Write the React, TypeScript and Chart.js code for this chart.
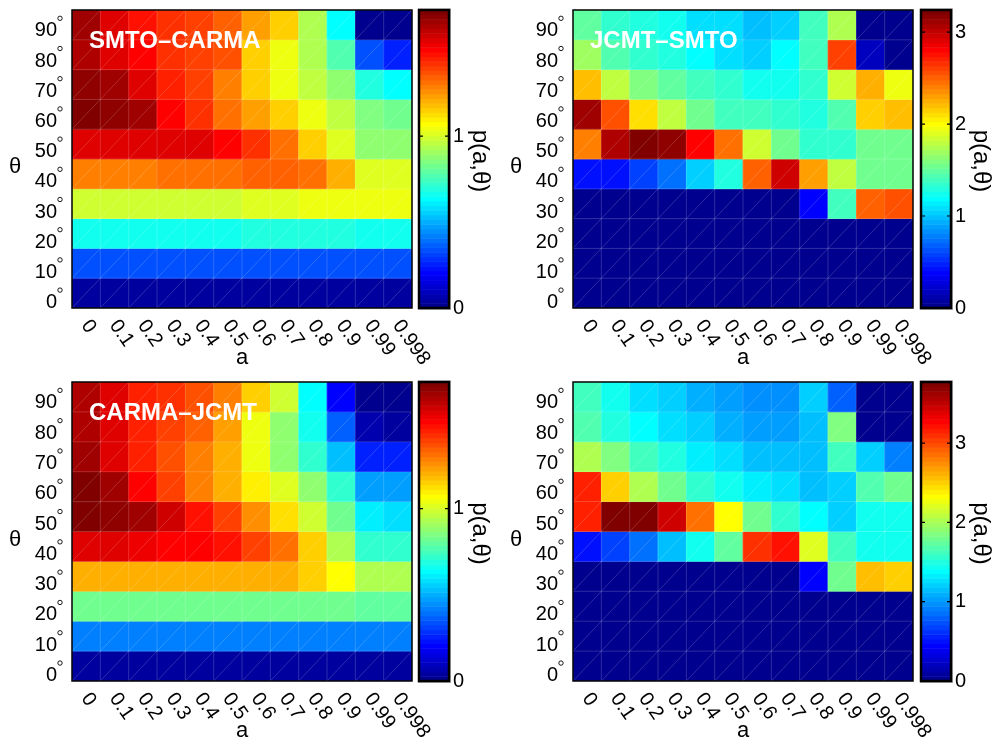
import React, { useEffect, useRef } from "react";
import { Chart, registerables } from "chart.js";
Chart.register(...registerables);

// spin parameter a (columns)
const aLabels = ["0", "0.1", "0.2", "0.3", "0.4", "0.5", "0.6", "0.7", "0.8", "0.9", "0.99", "0.998"];
// inclination θ (rows, top to bottom)
const thetaValues = [90, 80, 70, 60, 50, 40, 30, 20, 10, 0];

// p(a,θ) values, one row per θ (90° first)
const smtoCarma = [
  [1.665, 1.557, 1.476, 1.422, 1.395, 1.34, 1.232, 1.14, 0.934, 0.636, 0.014, 0.014],
  [1.638, 1.557, 1.503, 1.422, 1.395, 1.367, 1.151, 1.042, 0.934, 0.772, 0.339, 0.257],
  [1.70, 1.665, 1.557, 1.449, 1.395, 1.286, 1.151, 1.042, 0.961, 0.88, 0.69, 0.636],
  [1.72, 1.692, 1.665, 1.503, 1.422, 1.313, 1.232, 1.151, 1.042, 0.961, 0.853, 0.826],
  [1.557, 1.557, 1.557, 1.557, 1.557, 1.503, 1.422, 1.313, 1.151, 1.015, 0.88, 0.88],
  [1.286, 1.286, 1.286, 1.313, 1.313, 1.313, 1.34, 1.34, 1.3, 1.205, 1.015, 1.015],
  [0.988, 0.988, 0.988, 0.988, 0.988, 0.988, 1.015, 1.015, 1.042, 1.042, 1.042, 1.042],
  [0.663, 0.663, 0.663, 0.663, 0.663, 0.663, 0.69, 0.69, 0.69, 0.69, 0.663, 0.663],
  [0.339, 0.339, 0.339, 0.339, 0.339, 0.339, 0.339, 0.339, 0.339, 0.339, 0.339, 0.339],
  [0.03, 0.03, 0.03, 0.03, 0.03, 0.03, 0.03, 0.03, 0.03, 0.03, 0.03, 0.03],
];
const jcmtSmto = [
  [1.49, 1.34, 1.29, 1.24, 1.11, 1.09, 1.01, 1.04, 1.39, 1.75, 0.03, 0.03],
  [1.70, 1.44, 1.34, 1.29, 1.2, 1.09, 1.04, 1.19, 1.39, 2.61, 0.18, 0.03],
  [2.2, 1.8, 1.6, 1.49, 1.39, 1.34, 1.24, 1.24, 1.34, 1.85, 2.25, 1.95],
  [3.12, 2.56, 2.1, 1.8, 1.54, 1.39, 1.39, 1.34, 1.29, 1.44, 2.15, 2.2],
  [2.4, 3.06, 3.22, 3.16, 2.81, 2.46, 1.85, 1.54, 1.34, 1.34, 1.54, 1.54],
  [0.43, 0.43, 0.58, 0.73, 1.04, 1.29, 2.51, 2.96, 2.3, 1.8, 1.54, 1.54],
  [0.03, 0.03, 0.03, 0.03, 0.03, 0.03, 0.03, 0.03, 0.38, 1.39, 2.51, 2.56],
  [0.03, 0.03, 0.03, 0.03, 0.03, 0.03, 0.03, 0.03, 0.03, 0.03, 0.03, 0.03],
  [0.03, 0.03, 0.03, 0.03, 0.03, 0.03, 0.03, 0.03, 0.03, 0.03, 0.03, 0.03],
  [0.03, 0.03, 0.03, 0.03, 0.03, 0.03, 0.03, 0.03, 0.03, 0.03, 0.03, 0.03],
];
const carmaJcmt = [
  [1.64, 1.56, 1.45, 1.42, 1.369, 1.288, 1.152, 0.99, 0.637, 0.203, 0.014, 0.014],
  [1.64, 1.56, 1.45, 1.396, 1.342, 1.234, 1.044, 0.881, 0.664, 0.366, 0.068, 0.041],
  [1.665, 1.56, 1.45, 1.37, 1.288, 1.207, 1.044, 0.881, 0.718, 0.529, 0.258, 0.258],
  [1.72, 1.667, 1.505, 1.396, 1.288, 1.207, 1.098, 1.017, 0.881, 0.718, 0.475, 0.475],
  [1.72, 1.694, 1.667, 1.586, 1.478, 1.396, 1.261, 1.125, 0.989, 0.827, 0.61, 0.596],
  [1.559, 1.559, 1.532, 1.505, 1.505, 1.478, 1.396, 1.315, 1.152, 0.935, 0.718, 0.718],
  [1.207, 1.207, 1.207, 1.207, 1.207, 1.207, 1.207, 1.207, 1.152, 1.071, 0.935, 0.935],
  [0.827, 0.827, 0.827, 0.827, 0.827, 0.827, 0.827, 0.827, 0.827, 0.827, 0.8, 0.8],
  [0.42, 0.42, 0.42, 0.42, 0.42, 0.42, 0.42, 0.42, 0.42, 0.42, 0.42, 0.42],
  [0.03, 0.03, 0.03, 0.03, 0.03, 0.03, 0.03, 0.03, 0.03, 0.03, 0.03, 0.03],
];
const allThree = [
  [1.62, 1.44, 1.24, 1.21, 1.09, 1.03, 1.0, 1.0, 1.21, 0.8, 0.03, 0.03],
  [1.68, 1.5, 1.38, 1.27, 1.21, 1.09, 1.06, 1.06, 1.15, 1.86, 0.03, 0.03],
  [2.03, 1.86, 1.62, 1.5, 1.35, 1.27, 1.15, 1.15, 1.15, 1.62, 1.21, 0.91],
  [3.15, 2.5, 2.03, 1.8, 1.56, 1.44, 1.33, 1.27, 1.15, 1.21, 1.68, 1.8],
  [3.15, 3.74, 3.74, 3.45, 2.86, 2.33, 1.8, 1.56, 1.38, 1.21, 1.44, 1.44],
  [0.5, 0.68, 0.85, 1.15, 1.44, 1.74, 3.09, 3.21, 2.21, 1.62, 1.44, 1.44],
  [0.03, 0.03, 0.03, 0.03, 0.03, 0.03, 0.03, 0.03, 0.44, 1.8, 2.56, 2.5],
  [0.03, 0.03, 0.03, 0.03, 0.03, 0.03, 0.03, 0.03, 0.03, 0.03, 0.03, 0.03],
  [0.03, 0.03, 0.03, 0.03, 0.03, 0.03, 0.03, 0.03, 0.03, 0.03, 0.03, 0.03],
  [0.03, 0.03, 0.03, 0.03, 0.03, 0.03, 0.03, 0.03, 0.03, 0.03, 0.03, 0.03],
];

// colour limits and colorbar ticks
const cbMaxes = [1.733, 3.24, 1.735, 3.77];
const cbTicksSmall = [0, 1];
const cbTicksLarge = [0, 1, 2, 3];
const panelTitles = ["SMTO\u2013CARMA", "JCMT\u2013SMTO", "CARMA\u2013JCMT", ""];

const FONT = "'Liberation Sans', Arial, Helvetica, sans-serif";
const JET_LEVELS = 64;

function jetRGB(k: number): string {
  const n = 16;
  const u: number[] = [];
  for (let i = 1; i <= n; i++) u.push(i / n);
  for (let i = 0; i < n - 1; i++) u.push(1);
  for (let i = n; i >= 1; i--) u.push(i / n);
  let r = 0, g = 0, b = 0;
  const jg = k - 8, jr = k - 24, jb = k + 8;
  if (jg >= 1 && jg <= u.length) g = u[jg - 1];
  if (jr >= 1 && jr <= u.length) r = u[jr - 1];
  if (jb >= 1 && jb <= u.length) b = u[jb - 1];
  return `rgb(${Math.round(r * 255)},${Math.round(g * 255)},${Math.round(b * 255)})`;
}
function colorFor(v: number, max: number): string {
  let k = Math.floor((v / max) * JET_LEVELS) + 1;
  if (k < 1) k = 1;
  if (k > JET_LEVELS) k = JET_LEVELS;
  return jetRGB(k);
}

type PanelCfg = {
  values: number[][];
  max: number;
  ticks: number[];
  title: string;
  left: number;
  top: number;
  width: number;
  height: number;
  pad: { left: number; right: number; top: number; bottom: number };
  cbOffset: number;
};

const panels: PanelCfg[] = [
  { values: smtoCarma, max: cbMaxes[0], ticks: cbTicksSmall, title: panelTitles[0], left: 0, top: 0, width: 500, height: 372, pad: { left: 72, right: 88, top: 10, bottom: 64 }, cbOffset: 7 },
  { values: jcmtSmto, max: cbMaxes[1], ticks: cbTicksLarge, title: panelTitles[1], left: 500, top: 0, width: 495, height: 372, pad: { left: 73, right: 82, top: 10, bottom: 64 }, cbOffset: 8 },
  { values: carmaJcmt, max: cbMaxes[2], ticks: cbTicksSmall, title: panelTitles[2], left: 0, top: 372, width: 500, height: 372, pad: { left: 72, right: 88, top: 10, bottom: 63 }, cbOffset: 7 },
  { values: allThree, max: cbMaxes[3], ticks: cbTicksLarge, title: panelTitles[3], left: 500, top: 372, width: 495, height: 372, pad: { left: 73, right: 82, top: 10, bottom: 63 }, cbOffset: 8 },
];

function makeDecor(cfg: PanelCfg) {
  return {
    id: "panelDecor",
    afterDraw(chart: any) {
      const ctx: CanvasRenderingContext2D = chart.ctx;
      const { left, right, top, bottom } = chart.chartArea;
      const xs = chart.scales.x;
      const ys = chart.scales.y;
      const cb = chart.scales.cb;
      ctx.save();

      // faint cell mesh lines
      const xb: number[] = [];
      for (let i = 0; i <= aLabels.length; i++) xb.push(xs.getPixelForValue(i - 0.5));
      const yb: number[] = thetaValues.map((t) => ys.getPixelForValue(t + 5));
      yb.push(ys.getPixelForValue(thetaValues[thetaValues.length - 1] - 5));
      ctx.strokeStyle = "rgba(255,255,255,0.22)";
      ctx.lineWidth = 0.8;
      ctx.beginPath();
      for (const x of xb) { ctx.moveTo(x, top); ctx.lineTo(x, bottom); }
      for (const y of yb) { ctx.moveTo(left, y); ctx.lineTo(right, y); }
      for (let r = 0; r < thetaValues.length; r++) {
        for (let c = 0; c < aLabels.length; c++) {
          ctx.moveTo(xb[c], yb[r + 1]);
          ctx.lineTo(xb[c + 1], yb[r]);
        }
      }
      ctx.stroke();

      // axes box
      ctx.strokeStyle = "#000";
      ctx.lineWidth = 1.5;
      ctx.strokeRect(left, top, right - left, bottom - top);

      // title
      if (cfg.title) {
        ctx.fillStyle = "#fff";
        ctx.font = `bold 24px ${FONT}`;
        ctx.textAlign = "left";
        ctx.textBaseline = "alphabetic";
        ctx.fillText(cfg.title, left + 17, top + 38);
      }

      ctx.fillStyle = "#000";
      // x tick labels, rotated
      ctx.font = `20px ${FONT}`;
      aLabels.forEach((lab, i) => {
        const px = xs.getPixelForValue(i);
        ctx.save();
        ctx.translate(px - 1, bottom + 14);
        ctx.rotate((55 * Math.PI) / 180);
        ctx.textAlign = "left";
        ctx.textBaseline = "middle";
        ctx.fillText(lab, 0, 0);
        ctx.restore();
      });

      // y tick labels with degree marks
      ctx.textAlign = "right";
      ctx.textBaseline = "middle";
      thetaValues.forEach((t) => {
        const py = ys.getPixelForValue(t);
        const off = 9.5 - 0.04 * t;
        ctx.fillText(String(t), left - 15, py + off);
        ctx.beginPath();
        ctx.lineWidth = 0.9;
        ctx.strokeStyle = "#000";
        ctx.arc(left - 12, py + off - 12.5, 2.2, 0, Math.PI * 2);
        ctx.stroke();
      });

      // axis labels
      ctx.font = `22px ${FONT}`;
      ctx.textAlign = "center";
      ctx.textBaseline = "middle";
      ctx.fillText("\u03b8", left - 57, (top + bottom) / 2 + 8);
      ctx.fillText("a", (left + right) / 2, bottom + 50);

      // colorbar
      const cl = right + cfg.cbOffset;
      const cr = cl + 30;
      for (let k = 1; k <= JET_LEVELS; k++) {
        const y0 = cb.getPixelForValue(((k - 1) / JET_LEVELS) * cfg.max);
        const y1 = cb.getPixelForValue((k / JET_LEVELS) * cfg.max);
        ctx.fillStyle = jetRGB(k);
        ctx.fillRect(cl, y1, cr - cl, y0 - y1 + 0.5);
      }
      ctx.strokeStyle = "rgba(120,120,120,0.6)";
      ctx.lineWidth = 1;
      ctx.strokeRect(cl - 0.5, top - 1, cr - cl + 2, bottom - top + 2.5);
      ctx.strokeStyle = "#000";
      ctx.lineWidth = 2.5;
      ctx.strokeRect(cl, top, cr - cl, bottom - top);
      ctx.lineWidth = 1.2;
      ctx.fillStyle = "#000";
      ctx.font = `20px ${FONT}`;
      ctx.textAlign = "left";
      ctx.textBaseline = "middle";
      cfg.ticks.forEach((v) => {
        const py = cb.getPixelForValue(v);
        ctx.beginPath();
        ctx.moveTo(cl, py); ctx.lineTo(cl + 4, py);
        ctx.moveTo(cr - 4, py); ctx.lineTo(cr, py);
        ctx.stroke();
        ctx.fillText(String(v), cr + 4, py);
      });
      ctx.save();
      ctx.translate(right + 68, (top + bottom) / 2 + 2);
      ctx.rotate(Math.PI / 2);
      ctx.font = `24px ${FONT}`;
      ctx.textAlign = "center";
      ctx.textBaseline = "middle";
      ctx.fillText("p(a,\u03b8)", 0, 0);
      ctx.restore();

      ctx.restore();
    },
  };
}

function Panel({ cfg }: { cfg: PanelCfg }) {
  const ref = useRef<HTMLCanvasElement | null>(null);
  useEffect(() => {
    if (!ref.current) return;
    const datasets = thetaValues.map((t, r) => ({
      label: `${t}`,
      data: aLabels.map(() => [t - 5, t + 5] as [number, number]),
      backgroundColor: cfg.values[r].map((v) => colorFor(v, cfg.max)),
      borderWidth: 0,
      borderSkipped: false as const,
      barPercentage: 1,
      categoryPercentage: 1,
      grouped: false,
    }));
    const chart = new Chart(ref.current, {
      type: "bar",
      data: { labels: aLabels, datasets },
      options: {
        animation: false,
        responsive: true,
        maintainAspectRatio: false,
        events: [],
        layout: { padding: cfg.pad },
        plugins: { legend: { display: false }, tooltip: { enabled: false } },
        scales: {
          x: {
            type: "category",
            offset: true,
            grid: { display: false },
            border: { display: false },
            ticks: { display: false },
            afterFit: (s: any) => { s.height = 0; },
          },
          y: {
            type: "linear",
            min: -5,
            max: 95,
            grid: { display: false },
            border: { display: false },
            ticks: { display: false },
            afterFit: (s: any) => { s.width = 0; },
          },
          cb: {
            type: "linear",
            position: "right",
            min: 0,
            max: cfg.max,
            grid: { display: false },
            border: { display: false },
            ticks: { display: false },
            afterFit: (s: any) => { s.width = 0; },
          },
        },
      } as any,
      plugins: [makeDecor(cfg)],
    });
    return () => chart.destroy();
  }, [cfg]);
  return (
    <div style={{ position: "absolute", left: cfg.left, top: cfg.top, width: cfg.width, height: cfg.height }}>
      <canvas ref={ref} />
    </div>
  );
}

export default function App() {
  return (
    <div style={{ position: "absolute", left: 0, top: 0, width: 995, height: 744, background: "#fff", overflow: "hidden" }}>
      {panels.map((p, i) => (
        <Panel key={i} cfg={p} />
      ))}
    </div>
  );
}
